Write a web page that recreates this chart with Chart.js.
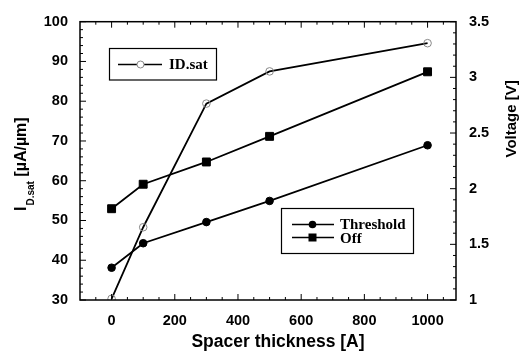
<!DOCTYPE html>
<html>
<head>
<meta charset="utf-8">
<script src="https://cdn.jsdelivr.net/npm/chart.js@4.4.1/dist/chart.umd.min.js"></script>
<style>
  html, body { margin: 0; padding: 0; background: #fff; }
  #wrap { width: 532px; height: 351px; }
</style>
</head>
<body>
<div id="wrap"><canvas id="c" width="532" height="351"></canvas></div>
<script>
// ---- data ----
const spacerThickness = [0, 100, 300, 500, 1000];           // [A]
const idSat          = [30.3, 48.3, 79.4, 87.5, 94.6];      // I_D.sat [uA/um], left axis
const thresholdV     = [1.29, 1.51, 1.70, 1.89, 2.39];      // Threshold [V], right axis
const offV           = [1.82, 2.04, 2.24, 2.47, 3.05];      // Off [V], right axis

const xTicks  = [0, 200, 400, 600, 800, 1000];
const yTicks  = [30, 40, 50, 60, 70, 80, 90, 100];
const y2Ticks = [1, 1.5, 2, 2.5, 3, 3.5];
const y2Labels = ['1', '1.5', '2', '2.5', '3', '3.5'];

const xTitle  = 'Spacer thickness [A]';
const yTitleMain = 'I';
const yTitleSub  = 'D.sat';
const yTitleRest = ' [\u00B5A/\u00B5m]';
const y2Title = 'Voltage [V]';
const legendIdSat = 'ID.sat';
const legendThreshold = 'Threshold';
const legendOff = 'Off';

const pts = (xs, ys) => xs.map((x, i) => ({ x: x, y: ys[i] }));

const SANS = '"Liberation Sans", Arial, Helvetica, sans-serif';
const SERIF = '"Liberation Serif", "Times New Roman", serif';

// inward ticks, frame, titles and legends
const decor = {
  id: 'decor',
  afterDraw(chart) {
    const ctx = chart.ctx;
    const a = chart.chartArea;
    const sx = chart.scales.x, sy = chart.scales.y, sy2 = chart.scales.y2;
    ctx.save();
    ctx.strokeStyle = '#000';
    ctx.lineWidth = 1.5;
    ctx.strokeRect(a.left, a.top, a.right - a.left, a.bottom - a.top);

    ctx.lineWidth = 1;
    const tickX = (v, len) => {
      const p = sx.getPixelForValue(v);
      ctx.beginPath();
      ctx.moveTo(p, a.bottom); ctx.lineTo(p, a.bottom - len);
      ctx.moveTo(p, a.top); ctx.lineTo(p, a.top + len);
      ctx.stroke();
    };
    for (let v = -50; v <= 1090; v += 50) tickX(v, xTicks.includes(v) ? 6 : 3);
    for (let v = 30; v <= 100; v += 2) {
      const p = sy.getPixelForValue(v);
      ctx.beginPath();
      ctx.moveTo(a.left, p); ctx.lineTo(a.left + (v % 10 === 0 ? 6 : 3), p);
      ctx.stroke();
    }
    for (let i = 0; i <= 25; i++) {
      const v = 1 + i * 0.1;
      const p = sy2.getPixelForValue(v);
      ctx.beginPath();
      ctx.moveTo(a.right, p); ctx.lineTo(a.right - (i % 5 === 0 ? 6 : 3), p);
      ctx.stroke();
    }

    // axis titles
    ctx.fillStyle = '#000';
    ctx.font = 'bold 17.5px ' + SANS;
    ctx.textAlign = 'center';
    ctx.textBaseline = 'middle';
    ctx.fillText(xTitle, 278, 342);

    ctx.font = 'bold 15px ' + SANS;
    ctx.save();
    ctx.translate(512, (a.top + a.bottom) / 2 - 42);
    ctx.rotate(-Math.PI / 2);
    ctx.fillText(y2Title, 0, 0);
    ctx.restore();

    ctx.save();
    ctx.translate(26, 211);
    ctx.rotate(-Math.PI / 2);
    ctx.textAlign = 'left';
    ctx.textBaseline = 'alphabetic';
    ctx.font = 'bold 16px ' + SANS;
    ctx.fillText(yTitleMain, 0, 0);
    let w = ctx.measureText(yTitleMain).width + 1;
    ctx.font = 'bold 10px ' + SANS;
    ctx.fillText(yTitleSub, w, 8);
    w += ctx.measureText(yTitleSub).width;
    ctx.font = 'bold 16px ' + SANS;
    ctx.fillText(yTitleRest, w, 0);
    ctx.restore();

    // legend 1
    ctx.lineWidth = 1.2;
    ctx.strokeRect(109.5, 48.5, 107, 31.5);
    ctx.lineWidth = 1.5;
    ctx.beginPath(); ctx.moveTo(118, 64.5); ctx.lineTo(162, 64.5); ctx.stroke();
    ctx.strokeStyle = '#888'; ctx.lineWidth = 1;
    ctx.beginPath(); ctx.arc(140.5, 64.5, 3.5, 0, Math.PI * 2); ctx.fillStyle = '#fff'; ctx.fill(); ctx.stroke();
    ctx.fillStyle = '#000'; ctx.strokeStyle = '#000';
    ctx.font = 'bold 15px ' + SERIF;
    ctx.textAlign = 'left'; ctx.textBaseline = 'middle';
    ctx.fillText(legendIdSat, 169, 65);

    // legend 2
    ctx.lineWidth = 1.2;
    ctx.strokeRect(281.5, 208.5, 132, 45);
    ctx.lineWidth = 1.5;
    ctx.beginPath(); ctx.moveTo(292, 224.5); ctx.lineTo(334, 224.5); ctx.stroke();
    ctx.beginPath(); ctx.arc(312.5, 224.5, 3.8, 0, Math.PI * 2); ctx.fill();
    ctx.beginPath(); ctx.moveTo(292, 237.5); ctx.lineTo(334, 237.5); ctx.stroke();
    ctx.fillRect(308.5, 233.5, 8, 8);
    ctx.fillText(legendThreshold, 340, 225);
    ctx.fillText(legendOff, 340, 239);
    ctx.restore();
  }
};

new Chart(document.getElementById('c'), {
  type: 'line',
  data: {
    datasets: [
      {
        label: legendIdSat,
        data: pts(spacerThickness, idSat),
        yAxisID: 'y',
        borderColor: '#000',
        borderWidth: 1.8,
        pointStyle: 'circle',
        pointRadius: 3.8,
        pointBorderWidth: 1,
        pointBorderColor: '#888',
        pointBackgroundColor: 'rgba(255,255,255,0)',
        tension: 0
      },
      {
        label: legendThreshold,
        data: pts(spacerThickness, thresholdV),
        yAxisID: 'y2',
        borderColor: '#000',
        borderWidth: 1.8,
        pointStyle: 'circle',
        pointRadius: 3.8,
        pointBorderWidth: 1,
        pointBorderColor: '#000',
        pointBackgroundColor: '#000',
        tension: 0
      },
      {
        label: legendOff,
        data: pts(spacerThickness, offV),
        yAxisID: 'y2',
        borderColor: '#000',
        borderWidth: 1.8,
        pointStyle: 'rect',
        pointRadius: 5.6,
        pointBorderWidth: 1,
        pointBorderColor: '#000',
        pointBackgroundColor: '#000',
        tension: 0
      }
    ]
  },
  options: {
    responsive: false,
    animation: false,
    devicePixelRatio: 1,
    layout: { padding: { top: 15, left: 0, right: 0, bottom: 0 } },
    plugins: { legend: { display: false }, tooltip: { enabled: false } },
    scales: {
      x: {
        type: 'linear',
        min: -100, max: 1090,
        grid: { display: false, drawTicks: false },
        border: { display: false },
        afterBuildTicks: s => { s.ticks = xTicks.map(v => ({ value: v })); },
        afterFit: s => { s.height = 51; },
        ticks: {
          padding: 12,
          maxRotation: 0,
          autoSkip: false,
          color: '#000',
          font: { family: SANS, size: 14.5, weight: 'bold' },
          callback: v => String(v)
        }
      },
      y: {
        position: 'left',
        min: 30, max: 100,
        grid: { display: false, drawTicks: false },
        border: { display: false },
        afterBuildTicks: s => { s.ticks = yTicks.map(v => ({ value: v })); },
        afterFit: s => { s.width = 80; },
        ticks: {
          padding: 12,
          color: '#000',
          font: { family: SANS, size: 14.5, weight: 'bold' },
          callback: v => String(v)
        }
      },
      y2: {
        position: 'right',
        min: 1, max: 3.5,
        grid: { display: false, drawTicks: false },
        border: { display: false },
        afterBuildTicks: s => { s.ticks = y2Ticks.map(v => ({ value: v })); },
        afterFit: s => { s.width = 76; },
        ticks: {
          padding: 13,
          color: '#000',
          font: { family: SANS, size: 14.5, weight: 'bold' },
          callback: (v, i) => y2Labels[i]
        }
      }
    }
  },
  plugins: [decor]
});
</script>
</body>
</html>
